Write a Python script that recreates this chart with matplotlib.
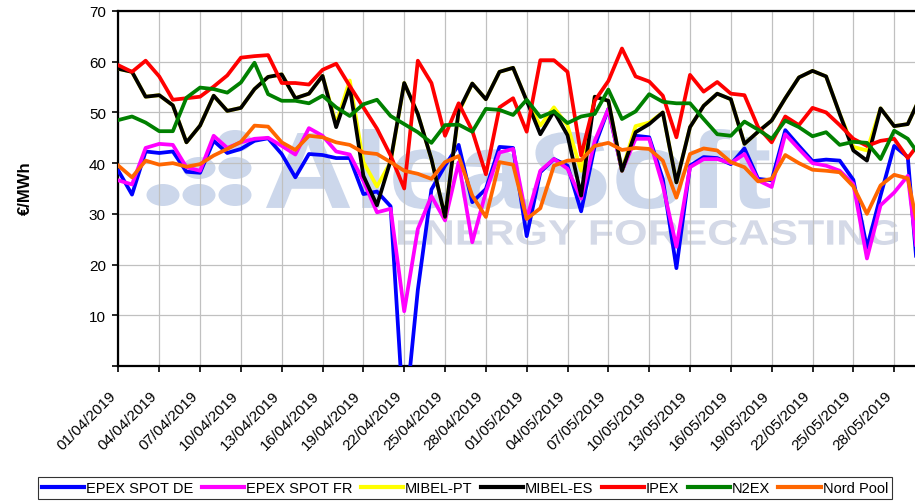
import pandas as pd
import matplotlib
matplotlib.use("Agg")
import matplotlib.pyplot as plt
from matplotlib.textpath import TextPath
from matplotlib.patches import PathPatch, Ellipse
from matplotlib.font_manager import FontProperties
from matplotlib.transforms import Affine2D, ScaledTranslation

plt.rcParams["font.family"] = ["Liberation Sans", "DejaVu Sans"]

# daily prices, 01/04/2019 onwards (EUR/MWh)
dates = pd.date_range("2019-04-01", periods=60, freq="D")

epex_de = [38.5, 33.8, 42.3, 42.0, 42.3, 38.3, 38.1, 44.4, 42.0, 42.8,
           44.4, 44.9, 41.8, 37.2, 41.8, 41.6, 41.0, 41.0, 33.9, 34.4,
           31.5, -12.0, 15.0, 34.8, 39.5, 43.6, 32.3, 34.9, 43.2, 43.0,
           25.6, 38.2, 40.8, 39.5, 30.5, 43.4, 50.7, 38.5, 45.4, 45.1,
           36.9, 19.3, 39.5, 41.2, 41.0, 39.8, 42.9, 36.9, 36.6, 46.5,
           43.4, 40.4, 40.7, 40.5, 36.7, 23.3, 33.6, 43.4, 41.2, 9.0]
epex_fr = [36.6, 35.8, 43.0, 43.8, 43.6, 39.2, 38.5, 45.4, 43.0, 44.1,
           44.8, 45.0, 43.4, 41.7, 46.9, 45.4, 42.3, 41.7, 36.5, 30.3,
           31.0, 10.8, 27.0, 33.5, 28.7, 40.2, 24.4, 34.3, 42.1, 42.8,
           29.0, 38.5, 40.8, 38.9, 33.0, 44.4, 50.7, 38.5, 44.8, 44.8,
           35.6, 23.5, 39.2, 40.8, 40.8, 40.0, 41.8, 36.6, 35.3, 45.7,
           42.8, 40.0, 39.5, 38.5, 35.9, 21.2, 31.7, 34.2, 37.5, 15.0]
mibel_pt = [58.6, 58.0, 53.1, 53.4, 51.4, 44.1, 47.4, 53.3, 50.3, 50.9,
            54.6, 57.0, 57.5, 52.8, 53.7, 57.2, 47.8, 56.3, 40.2, 35.4,
            40.2, 55.8, 49.7, 40.8, 29.4, 50.0, 55.7, 52.6, 58.0, 58.8,
            52.3, 47.4, 51.0, 47.4, 38.5, 53.1, 52.3, 38.5, 47.3, 48.0,
            50.0, 36.2, 47.1, 51.3, 53.7, 52.6, 43.8, 46.2, 48.4, 52.8,
            56.9, 58.2, 57.1, 49.7, 43.2, 42.5, 50.8, 47.3, 47.7, 53.5]
mibel_es = [58.6, 58.0, 53.1, 53.4, 51.4, 44.1, 47.4, 53.3, 50.3, 50.9,
            54.6, 57.0, 57.5, 52.8, 53.7, 57.2, 47.1, 55.0, 37.5, 31.7,
            40.5, 55.8, 49.7, 40.8, 29.4, 50.3, 55.7, 52.6, 58.0, 58.8,
            52.3, 45.7, 50.2, 45.5, 33.6, 53.1, 52.3, 38.5, 46.1, 47.7,
            50.0, 36.2, 47.1, 51.3, 53.7, 52.6, 43.8, 46.2, 48.4, 52.8,
            56.9, 58.2, 57.1, 49.7, 42.5, 40.5, 50.8, 47.3, 47.7, 53.5]
ipex = [59.3, 58.0, 60.2, 57.1, 52.5, 52.8, 53.1, 55.1, 57.3, 60.8,
        61.1, 61.3, 55.8, 55.8, 55.5, 58.4, 59.6, 55.2, 51.0, 46.8,
        41.5, 35.0, 60.2, 55.8, 45.4, 51.8, 46.4, 37.8, 51.0, 52.8,
        46.2, 60.3, 60.3, 58.0, 41.5, 52.3, 56.2, 62.6, 57.1, 56.1,
        53.3, 45.1, 57.4, 54.1, 56.0, 53.7, 53.4, 47.1, 44.1, 49.2,
        47.5, 50.9, 50.0, 47.5, 44.8, 43.4, 44.4, 44.8, 41.0, 44.5]
n2ex = [48.5, 49.2, 48.0, 46.3, 46.3, 52.9, 54.9, 54.6, 53.9, 55.9,
        59.8, 53.6, 52.3, 52.3, 51.8, 53.3, 51.0, 49.3, 51.6, 52.5,
        49.3, 47.7, 46.1, 44.0, 47.5, 47.6, 46.2, 50.7, 50.5, 49.5,
        52.5, 49.1, 50.2, 47.9, 49.2, 49.7, 54.5, 48.7, 50.2, 53.6,
        52.1, 51.8, 51.8, 48.7, 45.7, 45.4, 48.2, 46.6, 44.8, 48.4,
        47.1, 45.3, 46.1, 43.6, 44.2, 44.0, 40.8, 46.4, 44.8, 41.0]
nord_pool = [39.5, 37.2, 40.5, 39.7, 40.0, 39.3, 39.8, 41.5, 42.8, 44.2,
             47.4, 47.2, 44.1, 42.6, 45.4, 45.1, 44.1, 43.6, 42.1, 41.8,
             40.2, 38.5, 37.9, 36.9, 40.2, 41.4, 33.6, 29.4, 40.2, 39.7,
             29.0, 31.1, 39.5, 40.5, 40.6, 43.4, 44.0, 42.6, 43.0, 42.8,
             40.5, 33.2, 41.8, 42.9, 42.5, 40.2, 39.2, 36.4, 36.9, 41.6,
             40.0, 38.7, 38.5, 38.2, 35.4, 30.0, 35.6, 37.7, 37.0, 24.0]

series = [
    ("EPEX SPOT DE", epex_de, "#0000FF"),
    ("EPEX SPOT FR", epex_fr, "#FF00FF"),
    ("MIBEL-PT", mibel_pt, "#FFFF00"),
    ("MIBEL-ES", mibel_es, "#000000"),
    ("IPEX", ipex, "#FF0000"),
    ("N2EX", n2ex, "#008000"),
    ("Nord Pool", nord_pool, "#FF6600"),
]

W, H = 915, 502
fig = plt.figure(figsize=(W / 100, H / 100), dpi=100)
x_left, y_top, y_bot = 118.4, 12, 367
ax = fig.add_axes([x_left / W, 1 - y_bot / H, 1 - x_left / W, (y_bot - y_top) / H])


def fig_xy(px, py):
    return px / W, 1 - py / H


# watermark (AleaSoft logo), sits under the grid
def fit_text(s, x0, x1, ytop, ybot, color):
    path = TextPath((0, 0), s, size=100,
                    prop=FontProperties(family="Liberation Sans", weight="bold"))
    ext = path.get_extents()
    sx = (x1 - x0) / ext.width / W
    sy = (ybot - ytop) / ext.height / H
    tr = (Affine2D().translate(-ext.x0, -ext.y0).scale(sx, sy)
          .translate(x0 / W, 1 - ybot / H) + fig.transFigure)
    ax.add_patch(PathPatch(path, transform=tr, fc=color, ec="none", zorder=0.2))


fit_text("AleaSoft", 266, 770, 130, 210, "#CCD7EB")
fit_text("ENERGY FORECASTING", 398, 898, 221, 246, "#D4D9E7")
for cx, cy in [(163, 196), (199, 196), (235, 196), (199, 169), (235, 169), (235, 142)]:
    ax.add_patch(Ellipse(fig_xy(cx, cy), 33 / W, 22 / H, transform=fig.transFigure,
                         fc="#CCD7EB", ec="none", zorder=0.2))

x = list(range(len(dates)))
handles = []
for name, vals, col in series:
    ln, = ax.plot(x, vals, color=col, linewidth=2.7, label=name, zorder=3)
    handles.append(ln)

day_px = 13.61
ax.set_xlim(0, (W - x_left) / day_px)
ax.set_ylim(0, 70)
ax.set_xticks(x[::3])
ax.set_xticklabels(dates[::3].strftime("%d/%m/%Y"), rotation=45, ha="right",
                   va="top", fontsize=11)
shift = ScaledTranslation(-6 / 100, 0, fig.dpi_scale_trans)
for lab in ax.get_xticklabels():
    lab.set_transform(lab.get_transform() + shift)
ax.set_yticks(range(0, 71, 10))
ax.set_yticklabels([""] + [str(v) for v in range(10, 71, 10)], fontsize=11)
ax.grid(True, color="#C0C0C0", linewidth=0.9)
ax.set_axisbelow(True)
ax.tick_params(axis="both", length=4, width=1.2, color="black")
ax.tick_params(axis="y", pad=5)
ax.tick_params(axis="x", pad=12)
for side in ["left", "bottom", "top"]:
    ax.spines[side].set_linewidth(1.6)
ax.spines["right"].set_visible(False)

fig.text(25 / W, 1 - 188 / H, "€/MWh", rotation=90, fontsize=12,
         fontweight="bold", ha="center", va="center")

leg = fig.legend(handles=handles, loc="center", bbox_to_anchor=fig_xy(465, 489),
                 ncol=7, fontsize=10.5, frameon=True, fancybox=False,
                 edgecolor="black", handlelength=2.9, handletextpad=0.15,
                 columnspacing=0.55, borderpad=0.3, borderaxespad=0)
leg.get_frame().set_linewidth(0.8)
for h in leg.get_lines():
    h.set_linewidth(3)

fig.savefig("out.png", dpi=100)
